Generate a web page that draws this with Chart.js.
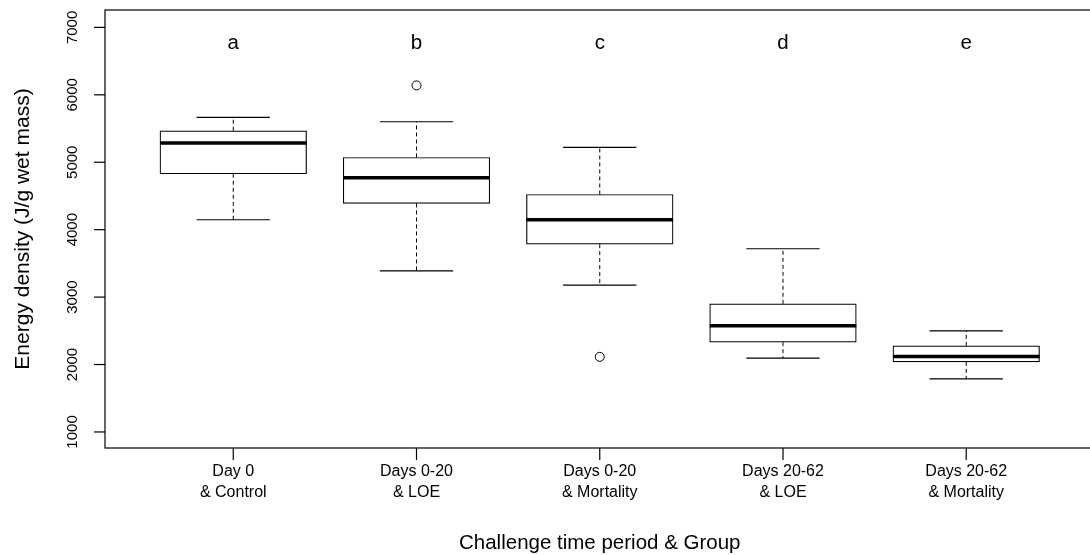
<!DOCTYPE html>
<html>
<head>
<meta charset="utf-8">
<script src="https://cdn.jsdelivr.net/npm/chart.js@4/dist/chart.umd.min.js"></script>
<style>
  html, body { margin: 0; padding: 0; background: #fff; overflow: hidden; }
  #wrap { width: 1090px; height: 555px; overflow: hidden; position: relative; }
  #boxChart { position: absolute; left: 0; top: 0; }
</style>
</head>
<body>
<div id="wrap"><canvas id="boxChart" width="1100" height="555"></canvas></div>
<script>
// Grupos (eje x)
var groups = [['Day 0', '& Control'], ['Days 0-20', '& LOE'], ['Days 0-20', '& Mortality'], ['Days 20-62', '& LOE'], ['Days 20-62', '& Mortality']];
var groupPos = [1, 2, 3, 4, 5];
// Estadisticos de cada caja
var lowerWhisker = [4147, 3390, 3178, 2095, 1788];
var q1 = [4829, 4389, 3786, 2332, 2040];
var median = [5285, 4770, 4147, 2574, 2119];
var q3 = [5467, 5071, 4522, 2900, 2277];
var upperWhisker = [5665, 5601, 5220, 3717, 2500];
// Valores atipicos
var outlierPos = [2, 3];
var outlierVal = [6140, 2114];
// Letras de significancia
var letters = ['a', 'b', 'c', 'd', 'e'];
var letterY = 6770;
// Marcas del eje y
var yTicks = [1000, 2000, 3000, 4000, 5000, 6000, 7000];

var FONT = '"Liberation Sans", Arial, Helvetica, sans-serif';

var boxData = [];
var outliers = [];
for (var i = 0; i < groupPos.length; i++) {
    boxData.push({ x: groupPos[i], y: [q1[i], q3[i]] });
}
for (var j = 0; j < outlierPos.length; j++) {
    outliers.push({ x: outlierPos[j], y: outlierVal[j] });
}

// ancho de una unidad del eje x en pixeles
function unitWidth(chart) {
    var xs = chart.scales.x;
    return xs.getPixelForValue(2) - xs.getPixelForValue(1);
}

// Bigotes, medianas, ejes y textos
var boxPlotExtras = {
    id: 'boxPlotExtras',
    afterDraw: function (chart) {
        var ctx = chart.ctx;
        var xs = chart.scales.x;
        var ys = chart.scales.y;
        var area = chart.chartArea;
        var unit = unitWidth(chart);
        var capHalf = unit * 0.2;
        var boxHalf = unit * 0.4;

        ctx.save();
        ctx.strokeStyle = '#000';

        for (var i = 0; i < groupPos.length; i++) {
            var cx = xs.getPixelForValue(groupPos[i]);
            // bigotes punteados
            ctx.lineWidth = 1;
            ctx.setLineDash([4, 3]);
            ctx.beginPath();
            ctx.moveTo(cx, ys.getPixelForValue(q3[i]));
            ctx.lineTo(cx, ys.getPixelForValue(upperWhisker[i]));
            ctx.moveTo(cx, ys.getPixelForValue(q1[i]));
            ctx.lineTo(cx, ys.getPixelForValue(lowerWhisker[i]));
            ctx.stroke();
            // topes
            ctx.setLineDash([]);
            ctx.lineWidth = 1.2;
            ctx.beginPath();
            var yu = ys.getPixelForValue(upperWhisker[i]);
            var yl = ys.getPixelForValue(lowerWhisker[i]);
            ctx.moveTo(cx - capHalf, yu);
            ctx.lineTo(cx + capHalf, yu);
            ctx.moveTo(cx - capHalf, yl);
            ctx.lineTo(cx + capHalf, yl);
            ctx.stroke();
            // mediana
            ctx.lineWidth = 3.5;
            ctx.beginPath();
            var ym = ys.getPixelForValue(median[i]);
            ctx.moveTo(cx - boxHalf, ym);
            ctx.lineTo(cx + boxHalf, ym);
            ctx.stroke();
        }

        // marco
        ctx.lineWidth = 1.2;
        ctx.strokeRect(area.left, area.top, area.right - area.left, area.bottom - area.top);

        // eje x
        ctx.fillStyle = '#000';
        ctx.font = '16px ' + FONT;
        ctx.textAlign = 'center';
        ctx.textBaseline = 'middle';
        for (var k = 0; k < groupPos.length; k++) {
            var tx = xs.getPixelForValue(groupPos[k]);
            ctx.beginPath();
            ctx.moveTo(tx, area.bottom);
            ctx.lineTo(tx, area.bottom + 12);
            ctx.stroke();
            ctx.fillText(groups[k][0], tx, area.bottom + 24);
            ctx.fillText(groups[k][1], tx, area.bottom + 44.5);
        }

        // eje y
        ctx.font = '15px ' + FONT;
        for (var t = 0; t < yTicks.length; t++) {
            var ty = ys.getPixelForValue(yTicks[t]);
            ctx.beginPath();
            ctx.moveTo(area.left, ty);
            ctx.lineTo(area.left - 11, ty);
            ctx.stroke();
            ctx.save();
            ctx.translate(area.left - 32, ty);
            ctx.rotate(-Math.PI / 2);
            ctx.fillText(String(yTicks[t]), 0, 0);
            ctx.restore();
        }

        // letras
        ctx.font = '20.5px ' + FONT;
        for (var l = 0; l < letters.length; l++) {
            ctx.fillText(letters[l], xs.getPixelForValue(groupPos[l]), ys.getPixelForValue(letterY));
        }

        // titulos
        var midX = xs.getPixelForValue(3);
        ctx.font = '20.5px ' + FONT;
        ctx.fillText('Challenge time period & Group', midX, 543);
        ctx.save();
        ctx.translate(23, (area.top + area.bottom) / 2);
        ctx.rotate(-Math.PI / 2);
        ctx.font = '21px ' + FONT;
        ctx.fillText('Energy density (J/g wet mass)', 0, 0);
        ctx.restore();

        ctx.restore();
    }
};

new Chart(document.getElementById('boxChart').getContext('2d'), {
    type: 'bar',
    data: {
        datasets: [
            {
                label: 'Cajas',
                data: boxData,
                backgroundColor: '#fff',
                borderColor: '#000',
                borderWidth: 1.2,
                borderSkipped: false,
                barThickness: function (c) { return unitWidth(c.chart) * 0.8; }
            },
            {
                type: 'scatter',
                label: 'Atipicos',
                data: outliers,
                pointRadius: 4.5,
                pointHoverRadius: 4.5,
                backgroundColor: '#fff',
                borderColor: '#000',
                borderWidth: 1
            }
        ]
    },
    options: {
        responsive: false,
        animation: false,
        events: [],
        layout: { padding: { left: 105, right: 1, top: 10, bottom: 107 } },
        plugins: { legend: { display: false }, tooltip: { enabled: false } },
        scales: {
            x: { type: 'linear', min: 0.3, max: 5.7, offset: false, display: false },
            y: { type: 'linear', min: 762, max: 7258, display: false }
        }
    },
    plugins: [boxPlotExtras]
});
</script>
</body>
</html>
